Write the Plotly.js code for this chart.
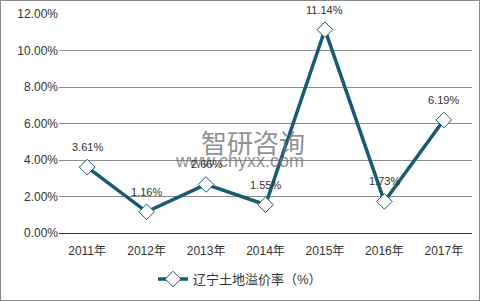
<!DOCTYPE html>
<html><head><meta charset="utf-8">
<script src="https://cdn.plot.ly/plotly-3.0.1.min.js"></script>
<style>body{margin:0;}#c{width:478px;height:299px;border:1px solid #8a8a8a;}</style>
</head><body><div id="c"></div>
<script>
const years = ['2011年','2012年','2013年','2014年','2015年','2016年','2017年'];
const premium = [3.61, 1.16, 2.66, 1.55, 11.14, 1.73, 6.19];
const labels = ['3.61%','1.16%','2.66%','1.55%','11.14%','1.73%','6.19%'];
const seriesName = '辽宁土地溢价率（%）';
const yTicks = [0,2,4,6,8,10,12];
const yTickText = yTicks.map(v => v.toFixed(2) + '%');
const font = '"Liberation Sans", Arial, "Noto Sans CJK SC", sans-serif';
const lineColor = '#175b73';

const trace = {
  x: years, y: premium, name: seriesName, type: 'scatter', mode: 'lines+markers',
  line: {color: lineColor, width: 3.5},
  marker: {symbol: 'diamond', size: 12, color: '#ffffff', line: {color: lineColor, width: 1}},
  cliponaxis: false
};
const valueLabels = years.map((yr, i) => ({
  x: yr, y: premium[i], xref: 'x', yref: 'y', text: labels[i], showarrow: false,
  yshift: 20, font: {size: 11, color: '#333', family: font}
}));
const layout = {
  width: 478, height: 299,
  margin: {l: 58, r: 7, t: 13, b: 67},
  paper_bgcolor: '#fff', plot_bgcolor: '#fff',
  font: {family: font, size: 12, color: '#333'},
  showlegend: true,
  legend: {orientation: 'h', xref: 'container', x: 0.5, xanchor: 'center', yref: 'container', y: 0.07, yanchor: 'middle',
           bgcolor: 'rgba(0,0,0,0)', itemwidth: 30, font: {size: 13, color: '#333'}},
  xaxis: {type: 'category', showgrid: false, showline: false, zeroline: false,
          ticks: 'outside', ticklen: 7, tickcolor: 'rgba(0,0,0,0)', tickfont: {size: 12, color: '#333'}},
  yaxis: {range: [0, 12], tickvals: yTicks, ticktext: yTickText, showgrid: true, gridcolor: '#8c8c8c', gridwidth: 1,
          zeroline: true, zerolinecolor: '#333', zerolinewidth: 1, showline: false, ticks: '', ticksuffix: '  ',
          tickfont: {size: 12, color: '#333'}},
  annotations: [
    {text: '智研咨询', xref: 'paper', yref: 'paper', x: 0.47, y: 0.42, showarrow: false,
     font: {size: 26, color: 'rgba(115,115,115,0.8)', family: '"Noto Sans CJK SC", sans-serif'}},
    {text: 'www.chyxx.com', xref: 'paper', yref: 'paper', x: 0.436, y: 0.275, showarrow: false,
     font: {size: 18, color: 'rgba(115,115,115,0.8)', family: font}}
  ].concat(valueLabels)
};
Plotly.newPlot('c', [trace], layout, {displayModeBar: false, staticPlot: true});
</script></body></html>
